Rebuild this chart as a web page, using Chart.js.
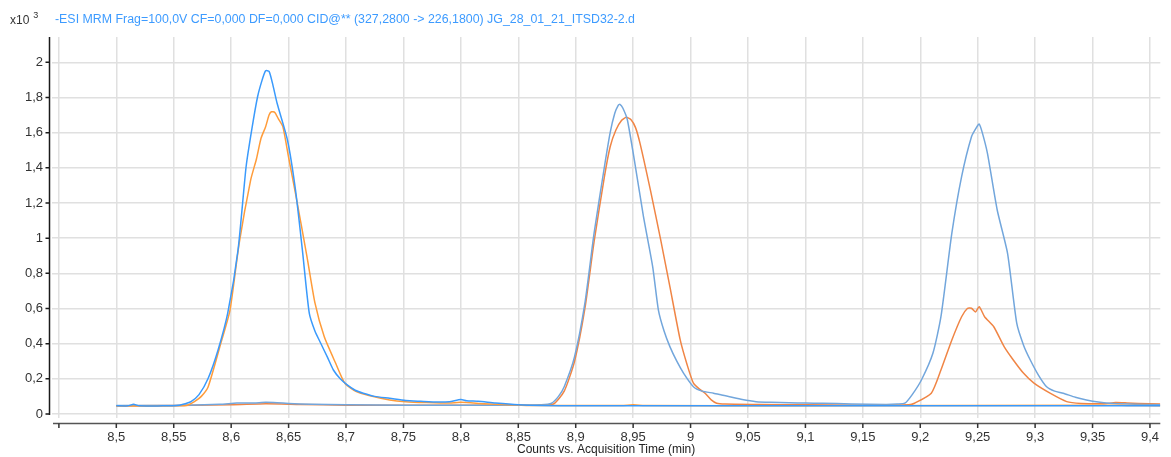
<!DOCTYPE html>
<html>
<head>
<meta charset="utf-8">
<script src="https://cdn.jsdelivr.net/npm/chart.js@4/dist/chart.umd.min.js"></script>
<style>
html,body{margin:0;padding:0;background:#fff;}
#wrap{position:relative;width:1171px;height:457px;}
</style>
</head>
<body>
<div id="wrap"><canvas id="c" width="1171" height="457"></canvas></div>
<script>
// ---- data (acquisition time in min, counts x10^3) ----
const titleText = "-ESI MRM Frag=100,0V CF=0,000 DF=0,000 CID@** (327,2800 -> 226,1800) JG_28_01_21_ITSD32-2.d";
const scaleLabel = "x10";
const scaleExp = "3";
const xAxisTitle = "Counts vs. Acquisition Time (min)";

const traceA_t = [8.500,8.510,8.515,8.520,8.540,8.550,8.555,8.560,8.565,8.572,8.580,8.5886,8.597,8.606,8.613,8.618,8.623,8.627,8.630,8.633,8.636,8.640,8.649,8.656,8.662,8.668,8.673,8.678,8.684,8.689,8.695,8.701,8.708,8.715,8.725,8.738,8.752,8.765,8.780,8.790,8.800,8.805,8.815,8.830,8.850,8.870,8.900,9.000,9.100,9.200,9.300,9.409];
const traceA_v = [0.047,0.046,0.055,0.046,0.046,0.047,0.050,0.058,0.070,0.110,0.203,0.364,0.573,0.933,1.406,1.620,1.804,1.900,1.952,1.948,1.880,1.767,1.558,1.274,0.933,0.573,0.470,0.402,0.320,0.250,0.200,0.165,0.135,0.118,0.100,0.089,0.076,0.072,0.068,0.070,0.082,0.075,0.072,0.062,0.052,0.048,0.047,0.047,0.047,0.046,0.047,0.047];

const traceA2_t = [8.500,8.555,8.562,8.568,8.574,8.580,8.591,8.599,8.607,8.617,8.622,8.626,8.630,8.633,8.635,8.638,8.641,8.645,8.650,8.656,8.666,8.673,8.681,8.691,8.699,8.709,8.720,8.738,8.752,8.770,8.790,8.800,8.820,8.840,8.860,8.940,8.950,8.960,9.100,9.370,9.380,9.409];
const traceA2_v = [0.045,0.046,0.050,0.070,0.100,0.155,0.402,0.591,0.971,1.331,1.450,1.568,1.634,1.700,1.719,1.715,1.680,1.634,1.460,1.255,0.895,0.630,0.440,0.288,0.175,0.127,0.105,0.080,0.070,0.065,0.062,0.066,0.058,0.052,0.048,0.048,0.052,0.048,0.047,0.050,0.048,0.047];

const traceB_t = [8.500,8.550,8.590,8.605,8.620,8.630,8.640,8.650,8.670,8.700,8.750,8.800,8.850,8.870,8.879,8.885,8.890,8.899,8.908,8.916,8.925,8.930,8.934,8.937,8.9385,8.941,8.945,8.952,8.959,8.967,8.972,8.977,8.982,8.988,8.994,9.0025,9.010,9.020,9.027,9.034,9.045,9.057,9.070,9.086,9.100,9.115,9.140,9.170,9.180,9.1866,9.193,9.201,9.211,9.218,9.2275,9.236,9.2446,9.249,9.2513,9.254,9.2585,9.267,9.276,9.284,9.290,9.2958,9.303,9.310,9.317,9.3245,9.335,9.3447,9.355,9.3648,9.380,9.409];
const traceB_v = [0.048,0.048,0.055,0.062,0.063,0.066,0.064,0.060,0.055,0.052,0.050,0.050,0.050,0.052,0.061,0.100,0.155,0.326,0.630,1.028,1.406,1.600,1.710,1.755,1.761,1.740,1.672,1.406,1.122,0.838,0.591,0.470,0.383,0.300,0.231,0.155,0.130,0.118,0.108,0.098,0.082,0.070,0.066,0.064,0.062,0.061,0.057,0.054,0.056,0.061,0.110,0.193,0.345,0.553,1.028,1.350,1.577,1.630,1.649,1.600,1.482,1.160,0.914,0.516,0.390,0.307,0.220,0.155,0.130,0.118,0.095,0.080,0.068,0.061,0.056,0.053];

const traceB2_t = [8.500,8.600,8.630,8.660,8.700,8.850,8.880,8.890,8.899,8.908,8.916,8.925,8.930,8.935,8.940,8.944,8.948,8.952,8.956,8.965,8.974,8.982,8.991,8.997,9.0025,9.008,9.0126,9.018,9.0227,9.030,9.060,9.100,9.150,9.190,9.195,9.2096,9.218,9.2275,9.236,9.241,9.2446,9.248,9.2513,9.256,9.264,9.273,9.281,9.290,9.299,9.313,9.3275,9.340,9.360,9.370,9.380,9.390,9.409];
const traceB2_v = [0.046,0.052,0.058,0.054,0.050,0.050,0.055,0.130,0.300,0.600,0.980,1.350,1.520,1.615,1.670,1.687,1.675,1.630,1.539,1.274,0.990,0.724,0.421,0.280,0.175,0.140,0.118,0.080,0.061,0.056,0.054,0.052,0.050,0.052,0.061,0.118,0.250,0.421,0.553,0.600,0.601,0.580,0.610,0.553,0.496,0.383,0.307,0.231,0.175,0.118,0.070,0.060,0.058,0.065,0.063,0.060,0.056];

const xMin = 8.444, xMax = 9.409, xStep = 0.05;
const yMin = -0.023, yMax = 2.144, yStep = 0.2;

function pts(t, v){ return t.map((x,i)=>({x:x, y:v[i]})); }
function fmt(v){ return String(Number(v.toFixed(2))).replace('.', ','); }

const FONT = "'Liberation Sans', Arial, sans-serif";
const TITLE_WIDTH = 580;

const axesPlugin = {
  id: 'axesPlugin',
  afterDraw(chart){
    const ctx = chart.ctx;
    const xs = chart.scales.x, ys = chart.scales.y;
    const ca = chart.chartArea;
    ctx.save();
    // y axis line + ticks
    ctx.strokeStyle = '#1a1a1a';
    ctx.lineWidth = 1.5;
    const yAxisX = ca.left - 2.5;
    const y0 = ys.getPixelForValue(0);
    ctx.beginPath();
    ctx.moveTo(yAxisX, ca.top);
    ctx.lineTo(yAxisX, y0 + 1);
    ys.ticks.forEach(t => {
      const py = ys.getPixelForValue(t.value);
      ctx.moveTo(yAxisX - 4, py);
      ctx.lineTo(yAxisX, py);
    });
    ctx.stroke();
    // x axis line + ticks
    ctx.strokeStyle = '#555';
    ctx.lineWidth = 1.5;
    const xAxisY = ca.bottom + 5.5;
    ctx.beginPath();
    ctx.moveTo(ca.left + 1, xAxisY);
    ctx.lineTo(ca.right, xAxisY);
    ctx.stroke();
    ctx.strokeStyle = '#333';
    ctx.lineWidth = 1.5;
    ctx.beginPath();
    xs.ticks.forEach(t => {
      const px = xs.getPixelForValue(t.value);
      ctx.moveTo(px, xAxisY);
      ctx.lineTo(px, xAxisY + 4.5);
    });
    ctx.stroke();
    // headers
    ctx.textBaseline = 'middle';
    ctx.textAlign = 'left';
    ctx.fillStyle = '#333';
    ctx.font = "12px " + FONT;
    ctx.fillText(scaleLabel, 10, 21);
    const w = ctx.measureText(scaleLabel).width;
    ctx.font = "9px " + FONT;
    ctx.fillText(scaleExp, 10 + w + 4, 16);
    ctx.fillStyle = '#3d9bff';
    ctx.font = "12px " + FONT;
    const tw = ctx.measureText(titleText).width;
    ctx.translate(55, 20);
    ctx.scale(TITLE_WIDTH / tw, 1);
    ctx.fillText(titleText, 0, 0);
    ctx.restore();
  }
};

const common = { pointRadius: 0, fill: false, tension: 0.2, borderWidth: 1.5 };

new Chart(document.getElementById('c'), {
  type: 'line',
  data: {
    datasets: [
      Object.assign({ label: 'A', data: pts(traceA_t, traceA_v), borderColor: '#3a9afc' }, common),
      Object.assign({ label: 'A2', data: pts(traceA2_t, traceA2_v), borderColor: '#ff9c3a' }, common),
      Object.assign({ label: 'B', data: pts(traceB_t, traceB_v), borderColor: '#72a6dc' }, common),
      Object.assign({ label: 'B2', data: pts(traceB2_t, traceB2_v), borderColor: '#f08545' }, common)
    ]
  },
  options: {
    responsive: false,
    animation: false,
    devicePixelRatio: 1,
    layout: { padding: { top: 37, right: 0, bottom: 0, left: 0 } },
    plugins: { legend: { display: false }, tooltip: { enabled: false }, title: { display: false } },
    scales: {
      x: {
        type: 'linear',
        min: xMin, max: xMax,
        afterFit(s){ s.height = 39; },
        border: { display: false },
        grid: { color: '#e0e0e0', lineWidth: 1.5, drawTicks: false },
        ticks: {
          stepSize: xStep, includeBounds: false, autoSkip: false, maxRotation: 0,
          padding: 12, color: '#333', font: { family: FONT, size: 13 },
          callback: (v, i) => (i === 0 ? '' : fmt(v))
        },
        title: { display: true, text: xAxisTitle, color: '#222', font: { family: FONT, size: 12 }, padding: { top: 0, bottom: 0 } }
      },
      y: {
        type: 'linear',
        min: yMin, max: yMax,
        afterFit(s){ s.width = 52; },
        border: { display: false },
        grid: { color: '#e0e0e0', lineWidth: 1.5, drawTicks: false },
        ticks: {
          stepSize: yStep, includeBounds: false, padding: 9,
          color: '#333', font: { family: FONT, size: 13 },
          callback: (v) => fmt(v)
        }
      }
    }
  },
  plugins: [axesPlugin]
});
</script>
</body>
</html>
